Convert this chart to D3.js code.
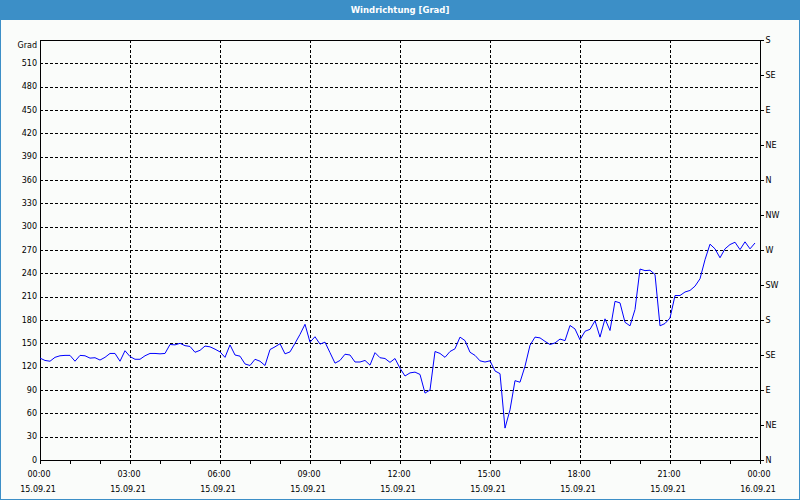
<!DOCTYPE html>
<html><head><meta charset="utf-8">
<script src="https://cdn.jsdelivr.net/npm/d3@7"></script>
<style>body{margin:0;background:#fff}svg{display:block}</style>
</head><body><svg id="c" width="800" height="500"></svg>
<script>
const title = "Windrichtung [Grad]";
const unitLabel = "Grad";
const startTime = new Date(2021, 8, 15, 0, 0);
const endTime = new Date(2021, 8, 16, 0, 0);
const stepMinutes = 10;
const windDir = [
131,128,127,132,134,134.5,134.5,127,134.5,134,
131,131.5,128.5,132,137,137,127,140.5,133,129.5,
129.5,134,137,137,136.5,137,148.5,148,150,147,
146,138.5,141,146.5,145.5,142.5,139,132,148,135,
133.5,123.5,121.5,129.5,127,121.5,142,145.5,149.5,136.5,
139,150,161.5,174.5,151.5,158.5,149,151.5,138,124.5,
128,136,135,126,126,128,122,138,131.5,130.5,
125.5,130.5,118,108,112,113,110,86,90,139.5,
137,132,139.5,143,158,153.5,138.5,134.5,127.5,126,
127.5,114.5,111,41,64.5,102,100,120.5,147.5,158,
157,152.5,148.5,150.5,155.5,153.5,173,168.5,154.5,165.5,
168,179,158,181.5,166.5,204,202,177,172.5,193.5,
245.5,243.5,244,238.5,172.5,175.5,182.5,211.5,211.5,216,
218,223.5,233,257.5,277.5,271.5,260,271.5,277,280,
270.5,280.5,271.5,279
];
const gradTicks = [0,30,60,90,120,150,180,210,240,270,300,330,360,390,420,450,480,510];
const compassTicks = [0,45,90,135,180,225,270,315,360,405,450,495,540];
const compassLabels = ["N","NE","E","SE","S","SW","W","NW","N","NE","E","SE","S"];
const timeLabels = ["00:00","03:00","06:00","09:00","12:00","15:00","18:00","21:00","00:00"];
const dateLabels = ["15.09.21","15.09.21","15.09.21","15.09.21","15.09.21","15.09.21","15.09.21","15.09.21","16.09.21"];

const FONT = "'DejaVu Sans', Verdana, sans-serif";
const svg = d3.select("#c");
const x = d3.scaleTime().domain([startTime, endTime]).range([40, 760]);
const y = d3.scaleLinear().domain([0, 540]).range([460, 40]);
const px = v => Math.round(v) + 0.5;

svg.append("rect").attr("x",0).attr("y",0).attr("width",800).attr("height",500).attr("fill","#fafcfa");
svg.append("rect").attr("x",0).attr("y",0).attr("width",800).attr("height",20).attr("fill","#3c8fc7");
svg.append("rect").attr("x",0.5).attr("y",0.5).attr("width",799).attr("height",499)
  .attr("fill","none").attr("stroke","#3c8fc7");
svg.append("text").attr("x",400).attr("y",13).attr("text-anchor","middle")
  .attr("font-family",FONT).attr("font-size","8.5px").attr("font-weight","bold").attr("fill","#fff")
  .text(title);

const [x0, x1] = x.range();
const [yb, yt] = y.range();

// horizontal grid
svg.append("g").selectAll("line").data(gradTicks.filter(v => v > 0)).join("line")
  .attr("x1", x0).attr("x2", x1)
  .attr("y1", d => px(y(d))).attr("y2", d => px(y(d)))
  .attr("stroke","#000").attr("stroke-dasharray","3,2").attr("shape-rendering","crispEdges");

// vertical grid
const majorTimes = d3.timeHour.every(3).range(startTime, d3.timeMinute.offset(endTime, 1));
svg.append("g").selectAll("line").data(majorTimes.slice(1, -1)).join("line")
  .attr("x1", d => px(x(d))).attr("x2", d => px(x(d)))
  .attr("y1", yt).attr("y2", yb)
  .attr("stroke","#000").attr("stroke-dasharray","3,2").attr("shape-rendering","crispEdges");

// frame
svg.append("rect").attr("x", px(x0)).attr("y", px(yt)).attr("width", x1 - x0).attr("height", yb - yt)
  .attr("fill","none").attr("stroke","#000").attr("shape-rendering","crispEdges");

// line
const line = d3.line()
  .x((d, i) => x(d3.timeMinute.offset(startTime, i * stepMinutes)))
  .y(d => y(d));
svg.append("path").datum(windDir).attr("d", line)
  .attr("fill","none").attr("stroke","#0000ff").attr("stroke-width",1);

// left labels
svg.append("g").selectAll("text").data(gradTicks).join("text")
  .attr("x", 37).attr("y", d => y(d)).attr("dy","0.35em").attr("text-anchor","end")
  .attr("font-family",FONT).attr("font-size","8px").attr("fill","#000").text(d => d);
svg.append("text").attr("x", 37).attr("y", 45).attr("dy","0.35em").attr("text-anchor","end")
  .attr("font-family",FONT).attr("font-size","8px").text(unitLabel);

// right axis
const ra = svg.append("g").attr("transform", `translate(${px(x1)},0)`)
  .call(d3.axisRight(y).tickValues(compassTicks).tickSize(3).tickPadding(2)
    .tickFormat((d, i) => compassLabels[i]));
ra.select(".domain").remove();
ra.selectAll("text").attr("font-family",FONT).attr("font-size","8px").attr("fill","#000");
ra.selectAll("line").attr("shape-rendering","crispEdges");

// bottom minor / major ticks
const hourTimes = d3.timeHour.every(1).range(startTime, d3.timeMinute.offset(endTime, 1));
svg.append("g").selectAll("line").data(hourTimes).join("line")
  .attr("x1", d => px(x(d))).attr("x2", d => px(x(d)))
  .attr("y1", yb).attr("y2", yb + 4)
  .attr("stroke","#000").attr("shape-rendering","crispEdges");

const bl = svg.append("g").selectAll("text").data(majorTimes).join("text")
  .attr("x", d => x(d) - 1).attr("text-anchor","middle")
  .attr("font-family",FONT).attr("font-size","8px").attr("fill","#000");
bl.append("tspan").attr("x", d => x(d) - 1).attr("y", 476.5).text((d, i) => timeLabels[i]);
bl.append("tspan").attr("x", d => x(d) - 2).attr("y", 491.5).text((d, i) => dateLabels[i]);
</script></body></html>
